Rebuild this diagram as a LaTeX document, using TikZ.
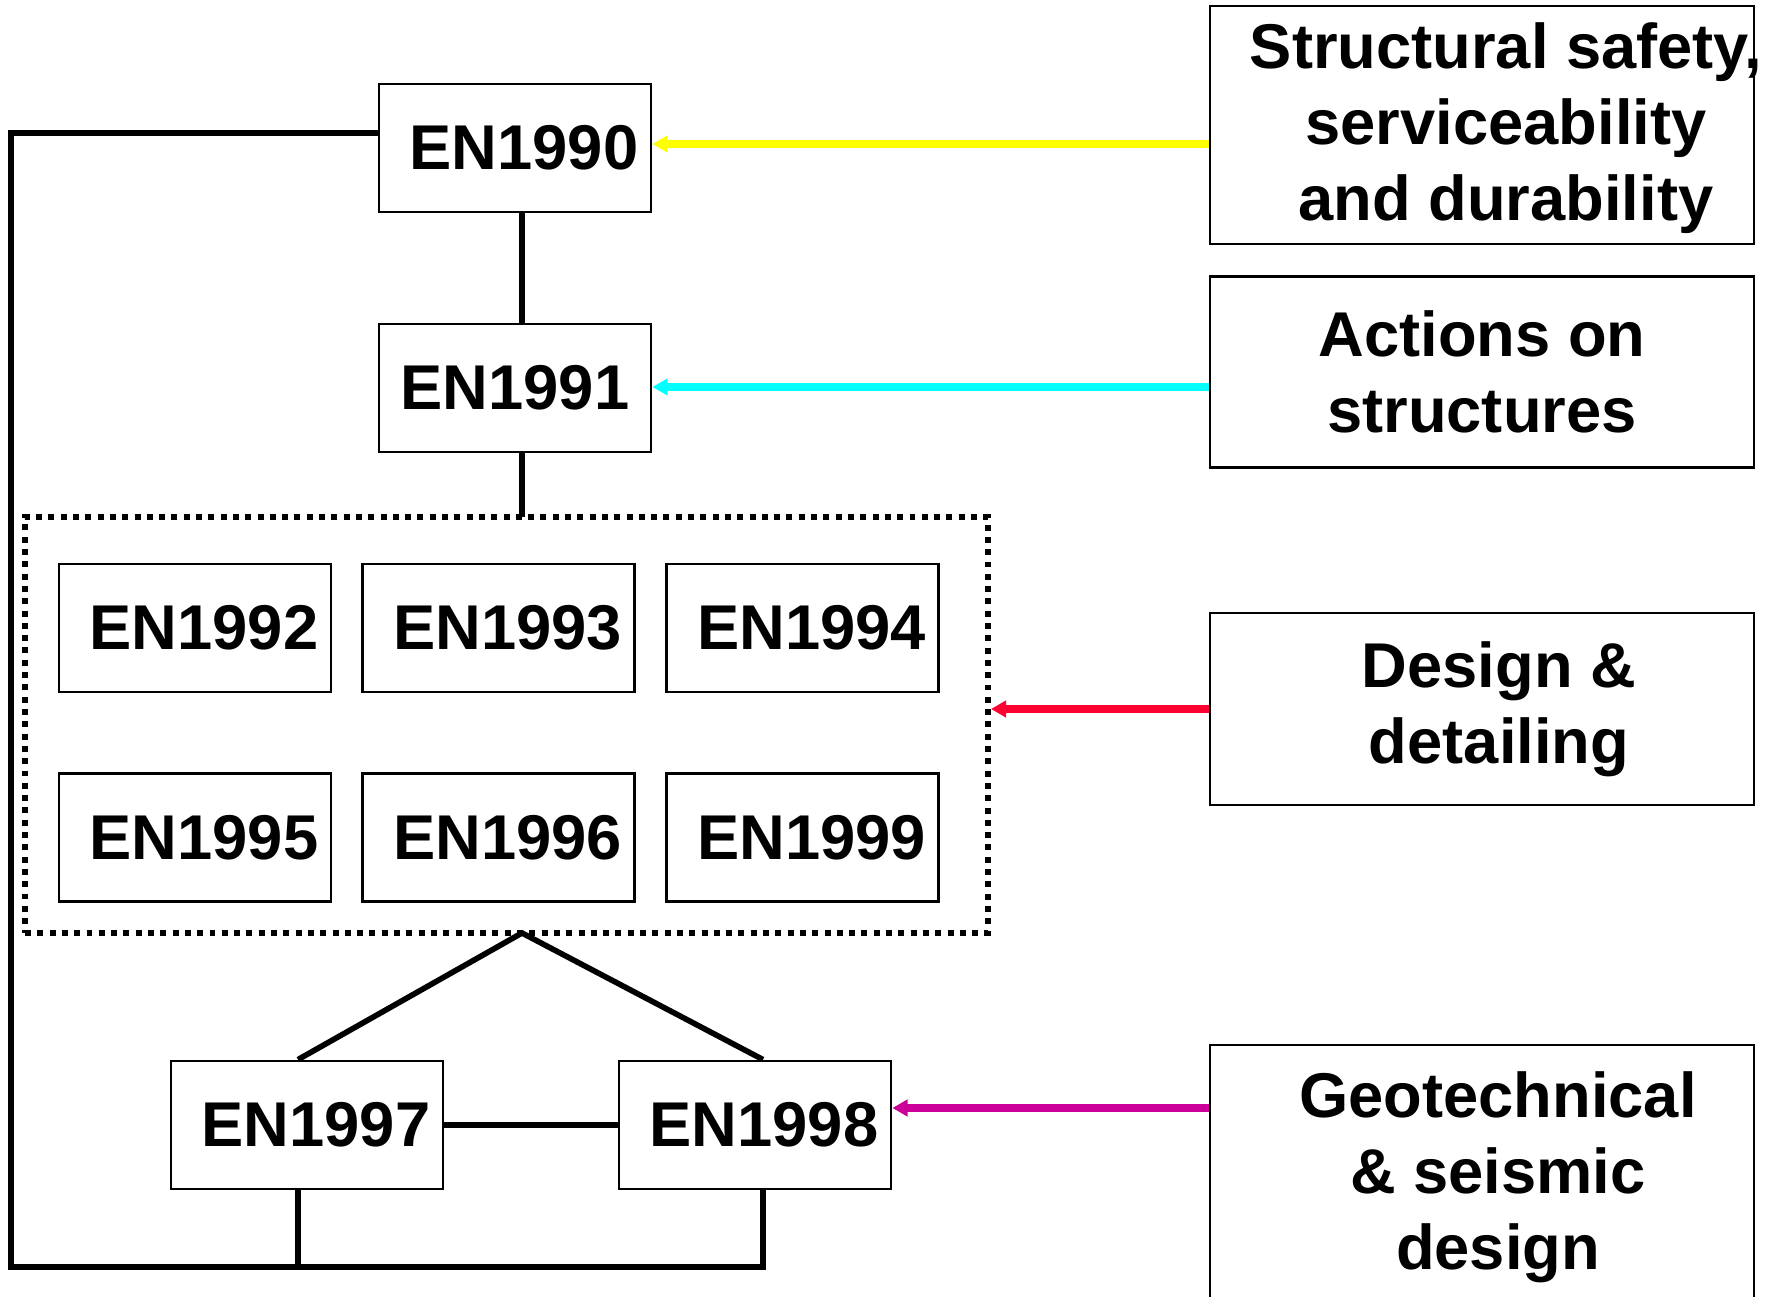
\documentclass[tikz,border=0pt]{standalone}
\usepackage{fontspec}
\setmainfont{Liberation Sans}
\usetikzlibrary{positioning,arrows.meta}

\definecolor{feedyellow}{RGB}{255,255,0}
\definecolor{feedcyan}{RGB}{0,255,255}
\definecolor{feedred}{RGB}{255,0,51}
\definecolor{feedmagenta}{RGB}{204,0,153}

\begin{document}
\begin{tikzpicture}[font=\fontsize{18}{21.6}\selectfont\bfseries,
    enbox/.style={draw, line width=0.8pt, inner sep=0pt, minimum width=2.72cm, minimum height=1.28cm},
    sidebox/.style={draw, line width=0.8pt, inner sep=0pt, minimum width=5.44cm},
    sidetext/.style={align=center, inner sep=0pt},
    link/.style={line width=1.6pt},
    feed/.style={line width=2pt, -{Triangle[length=4.3pt, width=4.6pt]}}]
    \useasboundingbox (0,0) rectangle (17.77,-12.97);

    % basis and actions
    \node[enbox] (en1990) at (5.15,-1.48) {\hspace*{0.18cm}EN1990};
    \node[enbox] (en1991) at (5.15,-3.88) {EN1991};

    % material codes
    \node[enbox] (en1992) at (1.95,-6.28) {\hspace*{0.18cm}EN1992};
    \node[enbox] (en1993) [right=0.29cm of en1992] {\hspace*{0.18cm}EN1993};
    \node[enbox] (en1994) [right=0.29cm of en1993] {\hspace*{0.18cm}EN1994};
    \node[enbox] (en1995) [below=0.79cm of en1992] {\hspace*{0.18cm}EN1995};
    \node[enbox] (en1996) [below=0.79cm of en1993] {\hspace*{0.18cm}EN1996};
    \node[enbox] (en1999) [below=0.79cm of en1994] {\hspace*{0.18cm}EN1999};
    \node[draw, line width=1.7pt, dash pattern=on 1.7pt off 1.8pt, minimum width=9.63cm, minimum height=4.16cm, inner sep=0pt] (codes) at (5.065,-7.25) {};

    % geotechnical and seismic
    \node[enbox] (en1997) at (3.07,-11.25) {\hspace*{0.18cm}EN1997};
    \node[enbox] (en1998) at (7.55,-11.25) {\hspace*{0.18cm}EN1998};

    \coordinate (neck) at (5.22,-5.17);
    \coordinate (apex) at (5.22,-9.33);
    \coordinate (corner) at (0.11,-12.67);

    \draw[link] (en1990.south -| neck) -- (en1991.north -| neck);
    \draw[link] (en1991.south -| neck) -- (neck);
    \draw[link] ([xshift=-0.09cm]en1997.north) -- (apex) -- ([xshift=0.08cm]en1998.north);
    \draw[link] (en1997.east) -- (en1998.west);
    \draw[link] ([xshift=-0.09cm]en1997.south) coordinate (foot) -- (foot |- corner);
    \draw[line width=1.9pt] ([yshift=0.15cm]en1990.west) -| (corner) -| ([xshift=0.08cm]en1998.south);

    % side notes
    \node[sidebox, minimum height=2.38cm] (safety) at (14.82,-1.25) {};
    \node[sidetext, xshift=0.24cm, yshift=-0.03cm] (safety-txt) at (safety) {Structural safety,\\serviceability\\and durability};
    \node[sidebox, minimum height=1.915cm] (actions) at (14.82,-3.72) {};
    \node[sidetext] (actions-txt) at (actions) {Actions on\\structures};
    \node[sidebox, minimum height=1.92cm] (detail) at (14.82,-7.09) {};
    \node[sidetext, xshift=0.17cm] (detail-txt) at (detail) {Design \&\\detailing};
    \node[sidebox, minimum height=2.64cm] (geo) at (14.82,-11.77) {};
    \node[sidetext, xshift=0.16cm] (geo-txt) at (geo) {Geotechnical\\\& seismic\\design};

    \draw[feed, feedyellow] ([yshift=-0.19cm]safety.west) coordinate (fy) -- (en1990.east |- fy);
    \draw[feed, feedcyan] ([yshift=-0.15cm]actions.west) coordinate (fc) -- (en1991.east |- fc);
    \draw[feed, feedred] (detail.west) -- (codes.east |- detail.west);
    \draw[feed, feedmagenta] ([yshift=0.69cm]geo.west) coordinate (fm) -- (en1998.east |- fm);
\end{tikzpicture}
\end{document}
